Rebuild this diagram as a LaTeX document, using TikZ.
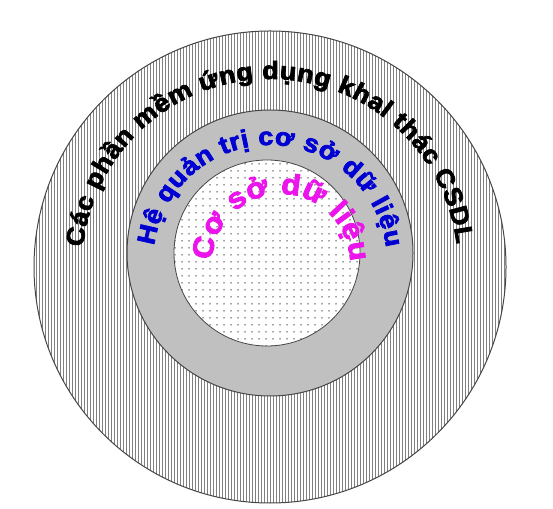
\documentclass[tikz,border=0pt]{standalone}
\usepackage{fontspec}
\setmainfont{Liberation Sans}
\newfontfamily\heavyfont[FakeBold=3,FakeStretch=1.08]{Liberation Sans Bold}
\usetikzlibrary{decorations.text,patterns.meta}
\definecolor{midgray}{RGB}{192,192,192}
\definecolor{edgegray}{RGB}{70,70,70}
\definecolor{wordblue}{RGB}{0,0,210}
\definecolor{wordpink}{RGB}{235,20,235}
\tikzset{
  ringedge/.style={draw=edgegray, line width=1pt},
  arctext/.style={decorate, decoration={text along path, text align={fit to path}, text={#1}}}
}
\begin{document}
\begin{tikzpicture}[x=1pt,y=1pt]
\useasboundingbox (0,0) rectangle (553,508);
\coordinate (oc) at (270,241);
\coordinate (mc) at (270,255);
\coordinate (ic) at (267,255);
\coordinate (tb) at (270,246);
\coordinate (tp) at (281,245);
% outer ring
\fill[white] (oc) circle[radius=236];
\fill[pattern={Lines[angle=90,distance=3pt,line width=0.8pt]}, pattern color=gray] (oc) circle[radius=236];
\path[ringedge] (oc) circle[radius=236];
% middle ring
\path[ringedge, fill=midgray] (mc) circle[radius=143];
% inner disc
\fill[white] (ic) circle[radius=93];
\fill[pattern={Dots[distance=6.5pt,radius=0.8pt]}, pattern color=gray!50!black] (ic) circle[radius=93];
\draw[edgegray, line width=0.8pt] (ic) circle[radius=93];
% texts
\path[arctext={|\heavyfont\fontsize{25}{30}\selectfont\color{black}|Các phần mềm ứng dụng khal thác CSDL}]
  ([shift={(174:188)}]oc) arc[start angle=174, end angle=7, radius=188];
\path[arctext={|\heavyfont\fontsize{25}{30}\selectfont\color{wordblue}|Hệ quản trị cơ sở dữ liệu}]
  ([shift={(172:117)}]tb) arc[start angle=172, end angle=7, radius=117];
\path[arctext={|\heavyfont\fontsize{29}{36}\selectfont\color{wordpink}|Cơ sở dữ liệu}]
  ([shift={(178:69)}]tp) arc[start angle=178, end angle=1, radius=69];
\end{tikzpicture}
\end{document}
